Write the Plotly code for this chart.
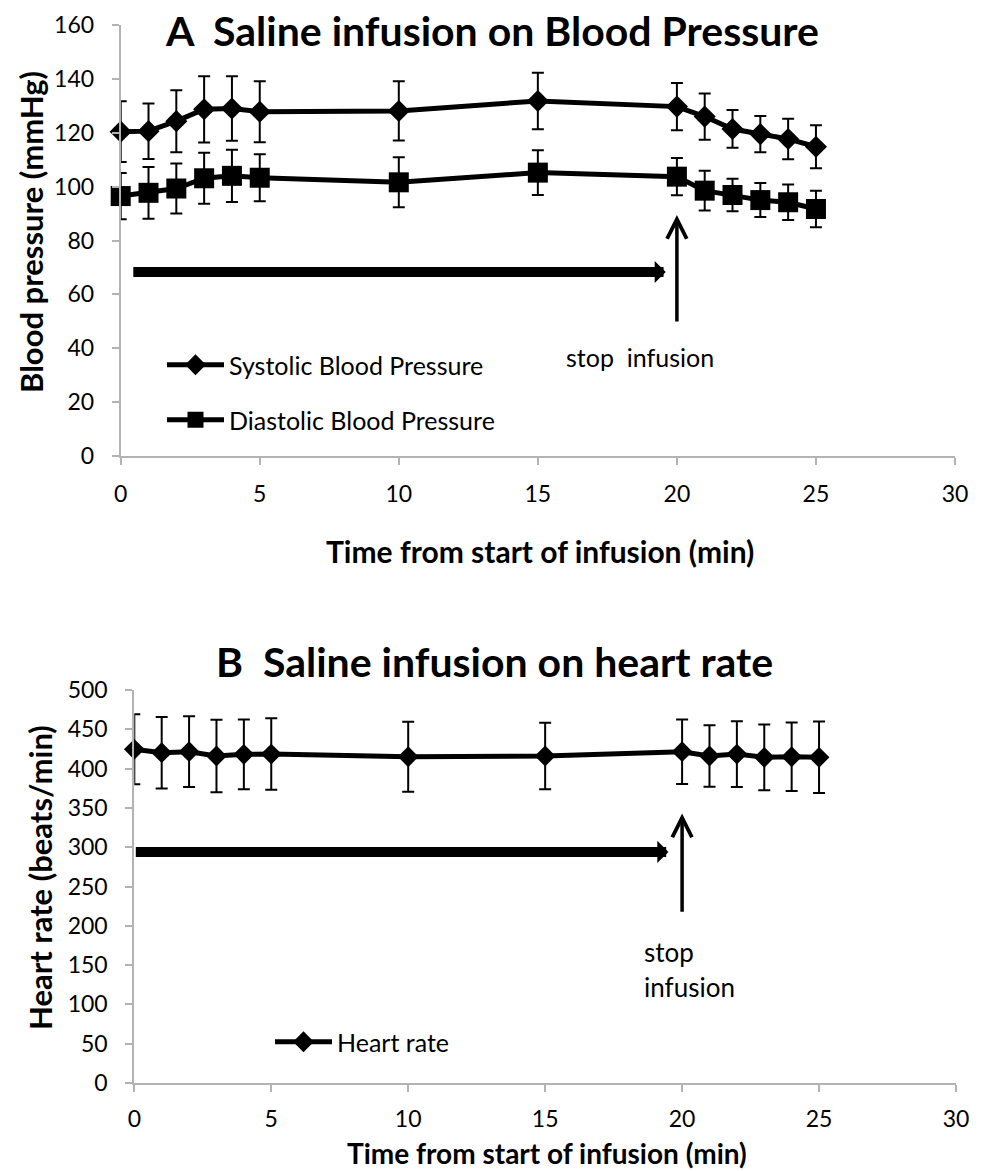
import plotly.graph_objects as go

# ---- data ----
time = [0, 1, 2, 3, 4, 5, 10, 15, 20, 21, 22, 23, 24, 25]
systolic = [120.4, 120.6, 124.3, 128.7, 129.0, 127.8, 128.1, 131.8, 129.7, 126.0, 121.4, 119.5, 117.7, 114.8]
systolic_err = [11.3, 10.3, 11.5, 12.3, 12.0, 11.3, 11.0, 10.5, 8.8, 8.6, 7.0, 6.7, 7.5, 8.0]
diastolic = [96.5, 97.7, 99.3, 103.1, 104.0, 103.3, 101.6, 105.2, 103.7, 98.5, 96.9, 95.0, 94.2, 91.7]
diastolic_err = [8.6, 9.6, 9.3, 9.5, 9.7, 8.7, 9.3, 8.3, 6.9, 7.4, 6.0, 6.3, 6.6, 6.8]
heart_rate = [424.5, 420.2, 421.5, 416.0, 418.1, 418.5, 415.1, 416.0, 421.5, 416.0, 418.5, 414.3, 415.1, 414.3]
heart_rate_err = [44.5, 45.6, 45.0, 46.0, 44.5, 45.4, 44.5, 42.4, 41.0, 39.0, 41.8, 41.7, 43.5, 45.5]

x_ticks = [0, 5, 10, 15, 20, 25, 30]
bp_ticks = [0, 20, 40, 60, 80, 100, 120, 140, 160]
hr_ticks = [0, 50, 100, 150, 200, 250, 300, 350, 400, 450, 500]

# infusion period and stop marker (data units)
infusion_start_bp, infusion_end_bp, infusion_level_bp = 0.4, 19.6, 68.3
stop_time = 20
stop_arrow_bp = (49.4, 89.5)
stop_label_bp = (18.68, 36.7)
infusion_start_hr, infusion_end_hr, infusion_level_hr = 0.0, 19.5, 294
stop_arrow_hr = (216, 343)
stop_label_hr = (18.52, 167, 122)

W, H = 984, 1171
FONT = "Lato"

def px(x):
    return x / W

def py(y):
    return 1 - y / H

fig = go.Figure()

err_style = dict(type="data", symmetric=True, color="black", thickness=2, width=6)

fig.add_trace(go.Scatter(
    x=time, y=systolic, name="Systolic Blood Pressure", mode="lines+markers",
    line=dict(color="black", width=5),
    marker=dict(symbol="diamond", size=17, color="black"),
    error_y=dict(array=systolic_err, **err_style),
    cliponaxis=False, xaxis="x", yaxis="y", legend="legend"))

fig.add_trace(go.Scatter(
    x=time, y=diastolic, name="Diastolic Blood Pressure", mode="lines+markers",
    line=dict(color="black", width=5),
    marker=dict(symbol="square", size=20, color="black"),
    error_y=dict(array=diastolic_err, **err_style),
    cliponaxis=False, xaxis="x", yaxis="y", legend="legend2"))

fig.add_trace(go.Scatter(
    x=time, y=heart_rate, name="Heart rate", mode="lines+markers",
    line=dict(color="black", width=5),
    marker=dict(symbol="diamond", size=16, color="black"),
    error_y=dict(array=heart_rate_err, **err_style),
    cliponaxis=False, xaxis="x2", yaxis="y2", legend="legend3"))

axis_common = dict(
    showgrid=False, zeroline=False, showline=True, linecolor="#b3b3b3", linewidth=2,
    ticks="outside", tickcolor="#b3b3b3", tickwidth=2, ticklen=7, automargin=False,
    tickfont=dict(family=FONT, size=23, color="black"),
)

leg_common = dict(font=dict(family=FONT, size=25, color="black"),
                  bgcolor="rgba(0,0,0,0)", xanchor="left", yanchor="middle",
                  itemwidth=57, borderwidth=0)

fig.update_layout(
    width=W, height=H,
    margin=dict(l=0, r=0, t=0, b=0, pad=0, autoexpand=False),
    paper_bgcolor="white", plot_bgcolor="white",
    font=dict(family=FONT, color="black"),
    showlegend=True,
    xaxis=dict(domain=[px(120.7), px(955)], range=[0, 30], tickvals=x_ticks,
               anchor="y", ticklabelstandoff=9, **axis_common),
    yaxis=dict(domain=[py(456), py(25)], range=[0, 160], tickvals=bp_ticks,
               anchor="x", ticklabelstandoff=13, **axis_common),
    xaxis2=dict(domain=[px(134.3), px(956)], range=[0, 30], tickvals=x_ticks,
                anchor="y2", ticklabelstandoff=7, **axis_common),
    yaxis2=dict(domain=[py(1083), py(690)], range=[0, 500], tickvals=hr_ticks,
                anchor="x2", ticklabelstandoff=13, **axis_common),
    legend=dict(x=px(162), y=py(365), **leg_common),
    legend2=dict(x=px(162), y=py(420), **leg_common),
    legend3=dict(x=px(270), y=py(1042), **leg_common),
)

annotations = [
    # titles
    dict(text="<b>A\u00a0\u00a0Saline infusion on Blood Pressure</b>", x=px(492), y=py(31),
         font=dict(family=FONT, size=41, color="black")),
    dict(text="<b>B\u00a0\u00a0Saline infusion on heart rate</b>", x=px(494), y=py(661),
         font=dict(family=FONT, size=41, color="black")),
    # axis titles
    dict(text="<b>Blood pressure (mmHg)</b>", x=px(31), y=py(232), textangle=-90,
         font=dict(family=FONT, size=31, color="black")),
    dict(text="<b>Heart rate (beats/min)</b>", x=px(40), y=py(878), textangle=-90,
         font=dict(family=FONT, size=31, color="black")),
    dict(text="<b>Time from start of infusion (min)</b>", x=px(540), y=py(551),
         font=dict(family=FONT, size=30, color="black")),
    dict(text="<b>Time from start of infusion (min)</b>", x=px(547), y=py(1153),
         font=dict(family=FONT, size=28, color="black")),
]
for a in annotations:
    a.update(xref="paper", yref="paper", showarrow=False, xanchor="center", yanchor="middle")
    fig.add_annotation(**a)

# stop infusion labels (data coordinates)
fig.add_annotation(text="stop\u00a0\u00a0infusion", x=stop_label_bp[0], y=stop_label_bp[1],
                   xref="x", yref="y", showarrow=False, xanchor="center", yanchor="middle",
                   font=dict(family=FONT, size=25, color="black"))
fig.add_annotation(text="stop", x=stop_label_hr[0], y=stop_label_hr[1], xref="x2", yref="y2",
                   showarrow=False, xanchor="left", yanchor="middle",
                   font=dict(family=FONT, size=26, color="black"))
fig.add_annotation(text="infusion", x=stop_label_hr[0], y=stop_label_hr[2], xref="x2", yref="y2",
                   showarrow=False, xanchor="left", yanchor="middle",
                   font=dict(family=FONT, size=26, color="black"))

# arrows: infusion period (thick, filled head) and stop infusion (thin, open head)
for xr, yr, xs, xe, lvl, (y0, y1) in [
    ("x", "y", infusion_start_bp, infusion_end_bp, infusion_level_bp, stop_arrow_bp),
    ("x2", "y2", infusion_start_hr, infusion_end_hr, infusion_level_hr, stop_arrow_hr),
]:
    fig.add_annotation(text="", x=xe, y=lvl, ax=xs, ay=lvl, xref=xr, yref=yr,
                       axref=xr, ayref=yr, showarrow=True, arrowhead=1,
                       arrowsize=0.37, arrowwidth=10, arrowcolor="black", standoff=0)
    fig.add_annotation(text="", x=stop_time, y=y1, ax=stop_time, ay=y0, xref=xr, yref=yr,
                       axref=xr, ayref=yr, showarrow=True, arrowhead=5,
                       arrowsize=1.1, arrowwidth=3.5, arrowcolor="black", standoff=0)

fig.write_html("out.html", config={"displayModeBar": False},
               post_script="document.body.style.margin='0';")
